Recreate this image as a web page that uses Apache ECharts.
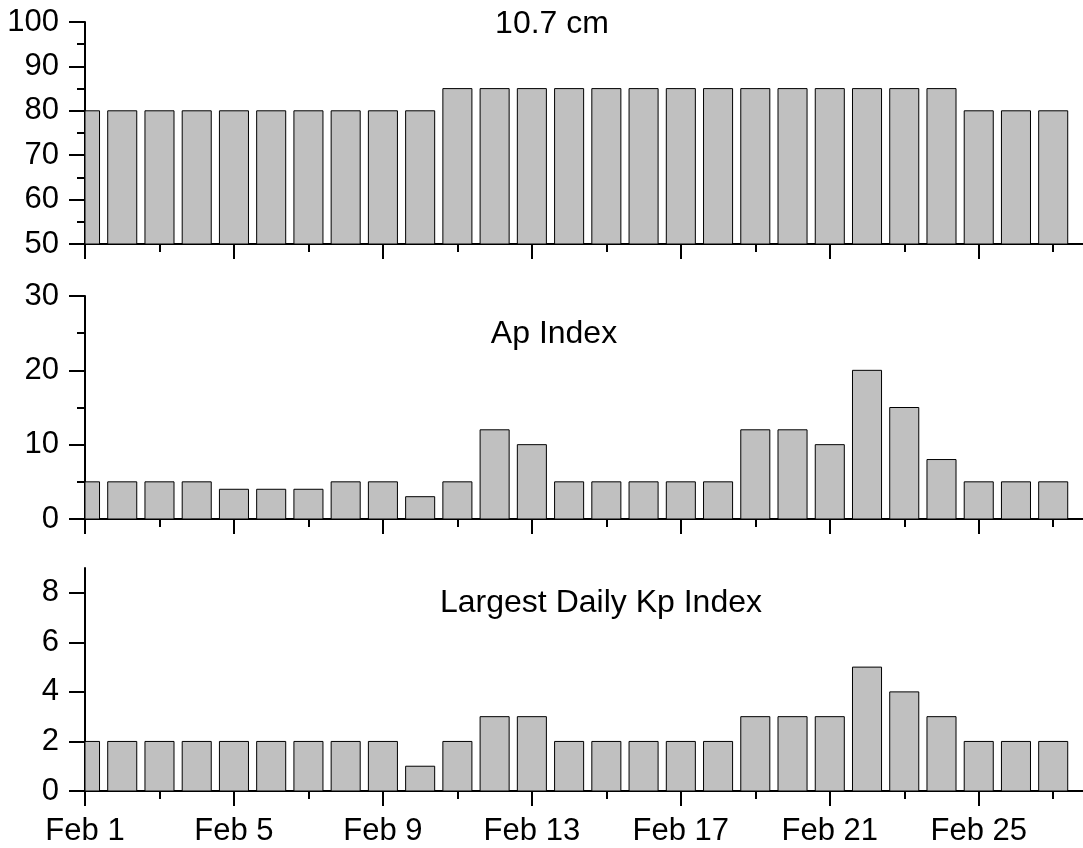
<!DOCTYPE html>
<html>
<head>
<meta charset="utf-8">
<script src="https://cdn.jsdelivr.net/npm/echarts@6/dist/echarts.min.js"></script>
<style>
html,body{margin:0;padding:0;background:#fff;}
#chart{width:1083px;height:848px;}
</style>
</head>
<body>
<div id="chart"></div>
<script>
// Day index 0 = Feb 1 ... 26 = Feb 27
const days = [0,1,2,3,4,5,6,7,8,9,10,11,12,13,14,15,16,17,18,19,20,21,22,23,24,25,26];
const flux107 = [80,80,80,80,80,80,80,80,80,80,85,85,85,85,85,85,85,85,85,85,85,85,85,85,80,80,80];
const apIndex = [5,5,5,5,4,4,4,5,5,3,5,12,10,5,5,5,5,5,12,12,10,20,15,8,5,5,5];
const kpMax = [2,2,2,2,2,2,2,2,2,1,2,3,3,2,2,2,2,2,3,3,3,5,4,3,2,2,2];

const xMajorTicks = [0,4,8,12,16,20,24];
const xMinorTicks = [2,6,10,14,18,22,26];
const xTickLabels = ['Feb 1','Feb 5','Feb 9','Feb 13','Feb 17','Feb 21','Feb 25'];
const kpYTicks = [0,2,4,6,8];

const titles = ['10.7 cm','Ap Index','Largest Daily Kp Index'];

const FONT = '"Liberation Sans", Arial, Helvetica, sans-serif';
const LABEL_SIZE = 31;
const TITLE_SIZE = 32;

const grids = [
  {left:85, right:0, top:22, height:222},
  {left:85, right:0, top:296, height:223},
  {left:85, right:0, top:568, height:223}
];

const X_MAX = 26.8;
const Y_MIN = [50, 0, 0];
const Y_MAX = [100, 30, 9];
const Y_INT = [10, 10, 2];
const BAR_FRACTION = 0.78;

function pairs(vals){ return vals.map((v,i)=>[days[i], v]); }

const xAxes = [];
const yAxes = [];
for (let g = 0; g < 3; g++) {
  xAxes.push({
    type:'value', gridIndex:g, min:0, max:X_MAX, interval:4, position:'bottom',
    axisLine:{show:true, onZero:false, lineStyle:{color:'#000', width:2}},
    axisTick:{show:true, customValues:xMajorTicks, length:15, lineStyle:{color:'#000', width:2}},
    axisLabel:{show:g===2, customValues:xMajorTicks, margin:25, color:'#000',
      fontFamily:FONT, fontSize:LABEL_SIZE,
      formatter:(v)=>{ const i = xMajorTicks.indexOf(Math.round(v)); return i>=0 ? xTickLabels[i] : ''; }},
    splitLine:{show:false}
  });
  xAxes.push({
    type:'value', gridIndex:g, min:0, max:X_MAX, interval:2, position:'bottom',
    axisLine:{show:false},
    axisTick:{show:true, customValues:xMinorTicks, length:8, lineStyle:{color:'#000', width:2}},
    axisLabel:{show:false},
    splitLine:{show:false}
  });
  const y = {
    type:'value', gridIndex:g, min:Y_MIN[g], max:Y_MAX[g], interval:Y_INT[g],
    axisLine:{show:true, lineStyle:{color:'#000', width:2}},
    axisTick:{show:true, length:16, lineStyle:{color:'#000', width:2}},
    axisLabel:{color:'#000', fontFamily:FONT, fontSize:LABEL_SIZE, margin:26},
    splitLine:{show:false}
  };
  if (g < 2) {
    y.minorTick = {show:true, splitNumber:2, length:8, lineStyle:{color:'#000', width:2}};
  } else {
    y.axisTick.customValues = kpYTicks;
    y.axisLabel.customValues = kpYTicks;
  }
  yAxes.push(y);
}

const seriesData = [flux107, apIndex, kpMax];
const series = seriesData.map((vals, g) => ({
  type:'custom', xAxisIndex:g*2, yAxisIndex:g, data:pairs(vals),
  silent:true, animation:false, z:3,
  encode:{x:0, y:1},
  renderItem:function(params, api){
    const day = api.value(0), v = api.value(1);
    const top = api.coord([day, v]);
    const base = api.coord([day, Y_MIN[g]]);
    const w = api.size([1, 0])[0] * BAR_FRACTION;
    const cs = params.coordSys;
    const rect = echarts.graphic.clipRectByRect(
      {x: top[0] - w / 2, y: top[1], width: w, height: base[1] - top[1]},
      {x: cs.x, y: cs.y, width: cs.width, height: cs.height}
    );
    if (!rect) return null;
    return {type:'rect', shape:rect, style:{fill:'#c0c0c0', stroke:'#000', lineWidth:1}};
  }
}));

const titlePos = [[552,24],[554,334],[601,603]];
const graphic = titles.map((t,i)=>({
  type:'text', x:titlePos[i][0], y:titlePos[i][1], silent:true,
  style:{text:t, fill:'#000', font:'normal ' + TITLE_SIZE + 'px ' + FONT, textAlign:'center', textVerticalAlign:'middle'}
}));

const chart = echarts.init(document.getElementById('chart'), null, {renderer:'canvas'});
chart.setOption({
  animation:false,
  backgroundColor:'#fff',
  grid:grids,
  xAxis:xAxes,
  yAxis:yAxes,
  series:series,
  graphic:graphic
});
</script>
</body>
</html>
